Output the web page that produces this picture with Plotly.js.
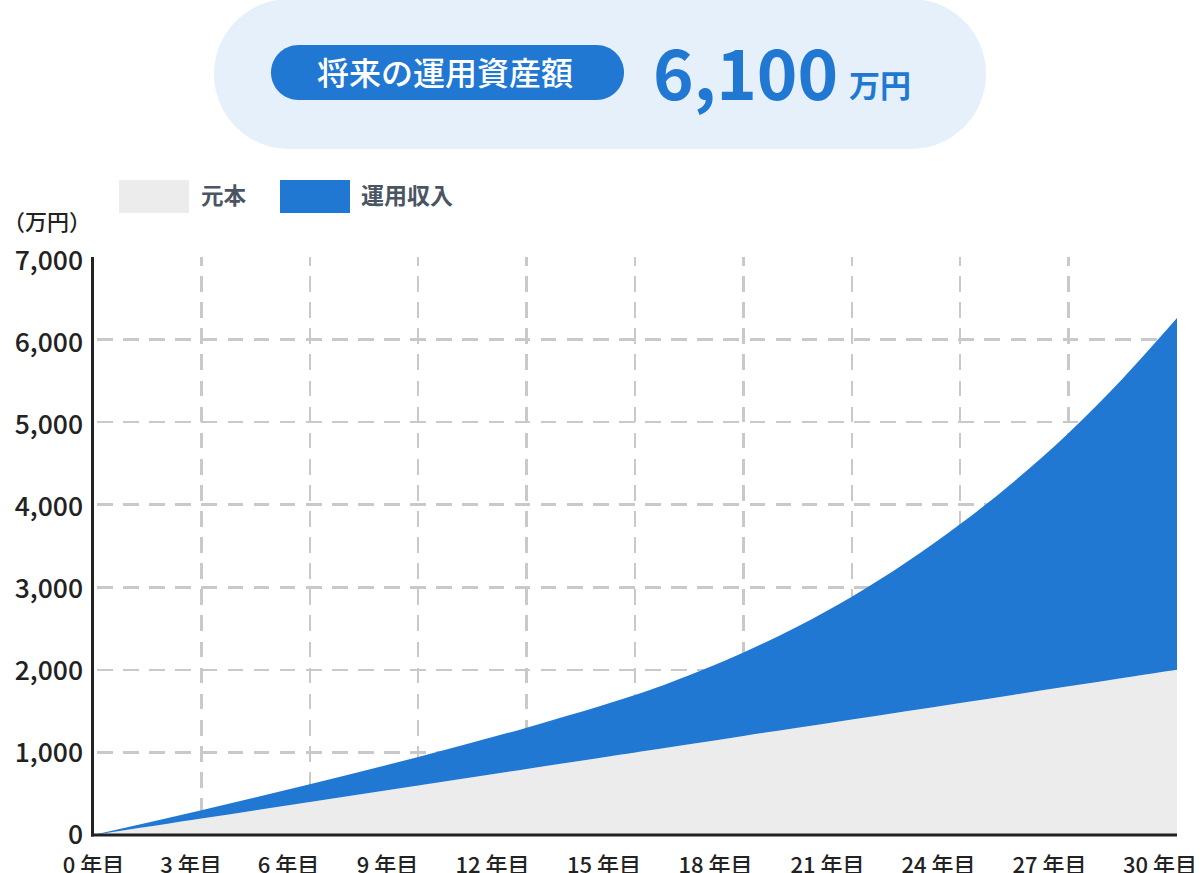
<!DOCTYPE html>
<html><head><meta charset="utf-8">
<script src="https://cdn.plot.ly/plotly-3.0.1.min.js"></script>
<style>html,body{margin:0;padding:0;background:#fff}#c{width:1200px;height:873px}</style>
</head><body><div id="c"></div>
<script>
const years=[0,3,6,9,12,15,16.5,18,19.5,21,22.5,24,25.5,27,28.5,30];
const principal=[0,200,400,600,800,1000,1100,1200,1300,1400,1500,1600,1700,1800,1900,2000];
const total=[0,300,615,945,1300,1695,1935,2210,2525,2885,3300,3765,4285,4870,5530,6260];
const income=total.map((v,i)=>v-principal[i]);
const gridYears=[3,6,9,12,15,18,21,24,27];
const labelCenters=[93.5,191,288.5,387.5,492.5,604,715.5,827.5,938.5,1049.5,1160];
const tickLabels=['0 年目','3 年目','6 年目','9 年目','12 年目','15 年目','18 年目','21 年目','24 年目','27 年目','30 年目'];
const yVals=[1000,2000,3000,4000,5000,6000,7000,0];
const yLabels=['1,000','2,000','3,000','4,000','5,000','6,000','7,000','0'];
const seriesNames=['元本','運用収入'];
const colors=['#ececec','#2178d2'];
const F='"Noto Sans CJK JP"';
const W=1200,H=873;
const L=93,R=1177,T=257,B=835;
const px=v=>(v-L)/(R-L), py=v=>(B-v)/(B-T);
const gridColor='#c9c9c9';
const traces=[
 {x:years,y:principal,name:seriesNames[0],type:'scatter',mode:'lines',stackgroup:'a',line:{width:0,color:colors[0],shape:'spline',smoothing:1},fillcolor:colors[0],hoverinfo:'skip'},
 {x:years,y:income,name:seriesNames[1],type:'scatter',mode:'lines',stackgroup:'a',line:{width:0,color:colors[1],shape:'spline',smoothing:1},fillcolor:colors[1],hoverinfo:'skip'},
 {x:labelCenters,y:labelCenters.map(()=>null),xaxis:'x2',yaxis:'y2',type:'scatter',mode:'lines',showlegend:false,hoverinfo:'skip'}
];
const K=0.5523;
const pill=(x0,y0,x1,y1,c)=>{const r=(y1-y0)/2,k=r*(1-K);const P=(x,y)=>`${px(x)},${py(y)}`;
 return {type:'path',xref:'paper',yref:'paper',layer:'below',fillcolor:c,line:{width:0},
 path:`M${P(x0+r,y0)}L${P(x1-r,y0)}C${P(x1-k,y0)} ${P(x1,y0+k)} ${P(x1,y0+r)}C${P(x1,y1-k)} ${P(x1-k,y1)} ${P(x1-r,y1)}L${P(x0+r,y1)}C${P(x0+k,y1)} ${P(x0,y1-k)} ${P(x0,y0+r)}C${P(x0,y0+k)} ${P(x0+k,y0)} ${P(x0+r,y0)}Z`};};
const ann=(t,x,y,size,color,anchor,weight)=>({text:t,xref:'paper',yref:'paper',x:px(x),y:py(y),xanchor:anchor||'left',yanchor:'middle',showarrow:false,font:{family:F,size,color,weight:weight||500}});
const rect=(x0,x1,y0,y1,c)=>({type:'rect',xref:'paper',yref:'paper',x0:px(x0),x1:px(x1),y0:py(y0),y1:py(y1),fillcolor:c,line:{width:0}});
const layout={
 width:W,height:H,paper_bgcolor:'#fff',plot_bgcolor:'#fff',showlegend:false,
 margin:{l:L,r:W-R,t:T,b:H-B},
 xaxis:{type:'linear',range:[0,30],tickvals:gridYears,showticklabels:false,ticks:'',zeroline:false,showgrid:true,gridcolor:gridColor,gridwidth:2.5,griddash:'8.7px,10.4px,7px,0px',showline:false},
 yaxis:{range:[0,7000],tickvals:yVals,showticklabels:false,ticks:'',zeroline:false,showgrid:true,gridcolor:gridColor,gridwidth:2.5,griddash:'0px,4px,15.7px,6.4px',showline:false},
 xaxis2:{type:'linear',overlaying:'x',anchor:'y2',side:'bottom',range:[L,R],tickvals:labelCenters,ticktext:tickLabels,ticks:'',showgrid:false,zeroline:false,showline:false,ticklabelstandoff:15,tickfont:{family:F,size:22,color:'#222',weight:500}},
 yaxis2:{overlaying:'y',anchor:'x2',side:'left',range:[0,7042],tickvals:yVals,ticktext:yLabels,ticks:'',showgrid:false,zeroline:false,showline:false,ticklabelstandoff:9,tickfont:{family:F,size:26.5,color:'#222',weight:500}},
 shapes:[
  pill(214,-1,986,149,'#e6f0fa'),
  pill(271,45,624,100,colors[1]),
  rect(119,189,180,213,colors[0]),
  rect(280,350,180,213,colors[1]),
  {type:'line',xref:'paper',yref:'paper',x0:px(92.5),x1:px(92.5),y0:py(257),y1:py(836.5),line:{color:'#222',width:3}},
  {type:'line',xref:'paper',yref:'paper',x0:px(91),x1:px(1177),y0:py(835),y1:py(835),line:{color:'#222',width:3}}
 ],
 annotations:[
  ann('将来の運用資産額',445,70.5,32,'#fff','center',500),
  ann('6,100',651,70,69,colors[1],'left',700),
  ann('万円',847,84,31,colors[1],'left',700),
  ann(seriesNames[0],199,194,22.5,'#4a5563','left',700),
  ann(seriesNames[1],358.5,194,23,'#4a5563','left',700),
  ann('（万円）',47,220,22,'#222','center',500)
 ]
};
Plotly.newPlot('c',traces,layout,{displayModeBar:false,staticPlot:true});
</script></body></html>
